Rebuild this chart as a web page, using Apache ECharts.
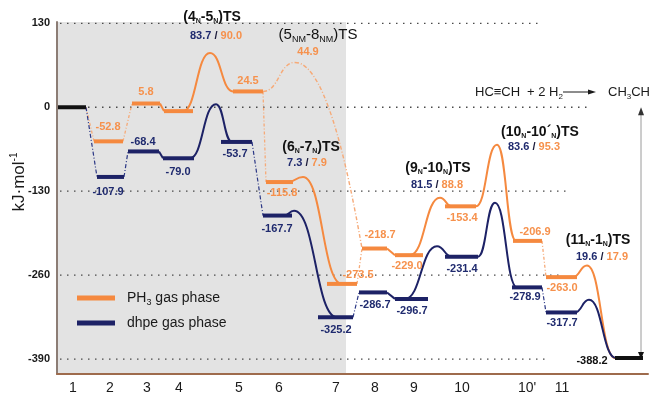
<!DOCTYPE html>
<html>
<head>
<meta charset="utf-8">
<script src="https://cdn.jsdelivr.net/npm/echarts@6/dist/echarts.min.js"></script>
<style>
  html, body { margin: 0; padding: 0; background: #fff; }
  #chart { width: 650px; height: 395px; }
</style>
</head>
<body>
<div id="chart"></div>
<script>
// Steps along the reaction coordinate
const stepLabels = ['1', '2', '3', '4', '5', '6', '7', '8', '9', '10', "10'", '11'];
// Relative energies (kJ·mol⁻¹): 1, 2 … 11, then 1 + ethane
const ph3Energy  = [0, -52.8, 5.8, -6.0, 24.5, -115.8, -273.5, -218.7, -229.0, -153.4, -206.9, -263.0, -388.2];
const dhpeEnergy = [0, -107.9, -68.4, -79.0, -53.7, -167.7, -325.2, -286.7, -296.7, -231.4, -278.9, -317.7, -388.2];
// Transition states (indices into the energy lists) and their barriers
const tsFrom = [3, 4, 5, 8, 9, 11];
const tsTo   = [4, 7, 6, 9, 10, 12];
const tsNames = [['4', 'N', '5', 'N'], ['5', 'NM', '8', 'NM'], ['6', 'N', '7', 'N'],
                 ['9', 'N', '10', 'N'], ['10', 'N', '10´', 'N'], ['11', 'N', '1', 'N']];
const dhpeBarrier = [83.7, null, 7.3, 81.5, 83.6, 19.6];
const ph3Barrier  = [90.0, 44.9, 7.9, 88.8, 95.3, 17.9];
const yTickValues = [130, 0, -130, -260, -390];

// ---- layout (axis units on x, px offsets for text) ----
const layout = {
  xMin: 57, xMax: 648, yMin: -413, yMax: 132,
  stepX: [73, 110, 147, 179, 239, 279, 336, 375, 414, 462, 527, 562],
  shaded: [58, 346],
  gridEnd: [540, 592, 568, 563, 547],
  ph3Bar:  [[57, 86], [94, 123], [132, 160], [164, 193], [233, 263], [266, 293], [327, 357], [362, 387], [395, 423], [445, 476], [513, 542], [546, 577], [615, 643]],
  dhpeBar: [[57, 86], [97, 124], [128, 159], [163, 194], [221, 252], [263, 292], [318, 353], [359, 387], [395, 428], [445, 478], [512, 542], [546, 577], [615, 643]],
  ph3Label:  [null, [108, -14], [146, -12], null, [248, -10], [282, 11], [358, -9], [380, -14], [407, 11], [462, 12], [535, -9], [562, 11], null],
  dhpeLabel: [null, [108, 15], [143, -9], [178, 14], [235, 12], [277, 13], [336, 13], [375, 13], [412, 12], [462, 12], [525, 10], [562, 11], null],
  endLabel: [592, 3],
  ph3Curve:  [[183, 210, 233], [263, 295, 362], [288, 303, 342], [410, 440, 452], [476, 497, 516], [573, 587, 615]],
  dhpeCurve: [[190, 216, 232], null, [284, 294, 337], [405, 437, 452], [478, 495, 517], [575, 589, 616]],
  tsTitle: [[212, 17], [318, 35], [311, 147], [438, 168], [540, 132], [598, 240]],
  tsValue: [[216, 36], [308, 52], [307, 163], [437, 185], [534, 147], [602, 257]],
  arrowX: 641
};

const ORANGE = '#F5893F', ORANGE_TXT = '#F6914C', ORANGE_LIGHT = '#F6AA78';
const NAVY = '#1D2266', NAVY_TXT = '#1F2A6E', BLACK = '#111111';
const FONT = '"Liberation Sans", Arial, Helvetica, sans-serif';

// Links between consecutive levels that have no transition state drawn
const links = [[0, 1, 'broken'], [1, 2, 'broken'], [2, 3, 'solid'], [4, 5, 'broken'],
               [6, 7, 'broken'], [7, 8, 'solid'], [10, 11, 'broken']];

function levelSeries(name, energy, bars, labels, color, txtColor) {
  const idx = [];
  for (let i = 1; i < energy.length - 1; i++) idx.push(i);
  return {
    type: 'custom', name, z: 6, coordinateSystem: 'cartesian2d',
    encode: { x: [0, 1], y: 2 },
    data: idx.map(i => [bars[i][0], bars[i][1], energy[i]]),
    renderItem: (params, api) => {
      const i = idx[params.dataIndex];
      const e = api.value(2);
      const a = api.coord([api.value(0), e]), b = api.coord([api.value(1), e]);
      const kids = [{ type: 'line', shape: { x1: a[0], y1: a[1], x2: b[0], y2: b[1] },
                      style: { stroke: color, lineWidth: 4 } }];
      const lab = labels[i];
      if (lab) {
        kids.push({ type: 'text', x: api.coord([lab[0], e])[0], y: a[1] + lab[1],
          style: { text: e.toFixed(1), fill: txtColor, fontSize: 11, fontWeight: 'bold',
                   fontFamily: FONT, align: 'center', verticalAlign: 'middle' } });
      }
      return { type: 'group', children: kids };
    }
  };
}

// shared start / end levels (black)
const sharedIdx = [0, ph3Energy.length - 1];
const sharedSeries = {
  type: 'custom', name: 'shared', z: 7, coordinateSystem: 'cartesian2d',
  encode: { x: [0, 1], y: 2 },
  data: sharedIdx.map(i => [layout.ph3Bar[i][0], layout.ph3Bar[i][1], ph3Energy[i]]),
  renderItem: (params, api) => {
    const e = api.value(2);
    const a = api.coord([api.value(0), e]), b = api.coord([api.value(1), e]);
    const kids = [{ type: 'line', shape: { x1: a[0], y1: a[1], x2: b[0], y2: b[1] },
                    style: { stroke: BLACK, lineWidth: 4 } }];
    if (params.dataIndex === 1) {
      kids.push({ type: 'text', x: api.coord([layout.endLabel[0], e])[0], y: a[1] + layout.endLabel[1],
        style: { text: e.toFixed(1), fill: BLACK, fontSize: 11, fontWeight: 'bold', fontFamily: FONT,
                 align: 'center', verticalAlign: 'middle' } });
    }
    return { type: 'group', children: kids };
  }
};

// connectors
const linkItems = [];
links.forEach(([f, t, kind]) => {
  linkItems.push({ value: [layout.ph3Bar[f][1], layout.ph3Bar[t][0], ph3Energy[f], ph3Energy[t]], phase: 'ph3', kind });
  linkItems.push({ value: [layout.dhpeBar[f][1], layout.dhpeBar[t][0], dhpeEnergy[f], dhpeEnergy[t]], phase: 'dhpe', kind });
});
const linkSeries = {
  type: 'custom', z: 4, coordinateSystem: 'cartesian2d', encode: { x: [0, 1], y: [2, 3] },
  data: linkItems.map(d => d.value),
  renderItem: (params, api) => {
    const d = linkItems[params.dataIndex];
    const a = api.coord([api.value(0), api.value(2)]), b = api.coord([api.value(1), api.value(3)]);
    let style;
    if (d.kind === 'solid') style = { stroke: d.phase === 'ph3' ? ORANGE : NAVY, lineWidth: 2 };
    else if (d.phase === 'ph3') style = { stroke: ORANGE_LIGHT, lineWidth: 1.3, lineDash: [3, 2, 1, 2] };
    else style = { stroke: '#2B3785', lineWidth: 1.2, lineDash: [4, 2, 1, 2] };
    return { type: 'line', shape: { x1: a[0], y1: a[1], x2: b[0], y2: b[1] }, style };
  }
};

// transition-state curves
const curveItems = [];
tsFrom.forEach((f, k) => {
  const t = tsTo[k];
  if (ph3Barrier[k] != null) {
    const xs = layout.ph3Curve[k];
    curveItems.push({ value: [xs[0], xs[1], xs[2], ph3Energy[f], ph3Energy[f] + ph3Barrier[k], ph3Energy[t]],
                      phase: 'ph3', nm: dhpeBarrier[k] == null });
  }
  if (dhpeBarrier[k] != null) {
    const xs = layout.dhpeCurve[k];
    curveItems.push({ value: [xs[0], xs[1], xs[2], dhpeEnergy[f], dhpeEnergy[f] + dhpeBarrier[k], dhpeEnergy[t]],
                      phase: 'dhpe', nm: false });
  }
});
const curveSeries = {
  type: 'custom', z: 5, coordinateSystem: 'cartesian2d', encode: { x: [0, 1, 2], y: [3, 4, 5] },
  data: curveItems.map(d => d.value),
  renderItem: (params, api) => {
    const d = curveItems[params.dataIndex];
    const s = api.coord([api.value(0), api.value(3)]);
    const p = api.coord([api.value(1), api.value(4)]);
    const t = api.coord([api.value(2), api.value(5)]);
    const d1 = p[0] - s[0], d2 = t[0] - p[0];
    const style = d.nm
      ? { stroke: ORANGE_LIGHT, lineWidth: 1.4, lineDash: [4, 2, 1, 2], fill: null }
      : { stroke: d.phase === 'ph3' ? ORANGE : NAVY, lineWidth: 2, fill: null };
    const fallEnd = d.nm
      ? { cpx2: t[0] - 0.15 * d2, cpy2: t[1] - 0.3 * (t[1] - p[1]) }
      : { cpx2: t[0] - 0.5 * d2, cpy2: t[1] };
    return { type: 'group', children: [
      { type: 'bezierCurve', shape: { x1: s[0], y1: s[1], x2: p[0], y2: p[1],
          cpx1: s[0] + 0.5 * d1, cpy1: s[1], cpx2: p[0] - 0.5 * d1, cpy2: p[1] }, style },
      { type: 'bezierCurve', shape: Object.assign({ x1: p[0], y1: p[1], x2: t[0], y2: t[1],
          cpx1: p[0] + 0.5 * d2, cpy1: p[1] }, fallEnd), style }
    ] };
  }
};

// shaded region and dotted guides
const shadeSeries = {
  type: 'custom', z: 1, coordinateSystem: 'cartesian2d', encode: { x: [0, 1] },
  data: [[layout.shaded[0], layout.shaded[1]]],
  renderItem: (params, api) => {
    const a = api.coord([api.value(0), layout.yMax]);
    const b = api.coord([api.value(1), layout.yMin]);
    return { type: 'rect', shape: { x: a[0], y: a[1], width: b[0] - a[0], height: b[1] - a[1] },
             style: { fill: '#E3E3E3' } };
  }
};
const guideSeries = {
  type: 'custom', z: 2, coordinateSystem: 'cartesian2d', encode: { x: [0, 1], y: 2 },
  data: yTickValues.map((v, i) => [layout.xMin, layout.gridEnd[i], v]),
  renderItem: (params, api) => {
    const a = api.coord([api.value(0), api.value(2)]), b = api.coord([api.value(1), api.value(2)]);
    return { type: 'line', shape: { x1: a[0] + 3, y1: a[1], x2: b[0], y2: b[1] },
             style: { stroke: '#4a4a4a', lineWidth: 1.3, lineDash: [1.5, 5.5] } };
  }
};

// overall reaction energy arrow
const arrowSeries = {
  type: 'custom', z: 8, coordinateSystem: 'cartesian2d', encode: { x: 0, y: [1, 2] },
  data: [[layout.arrowX, ph3Energy[ph3Energy.length - 1], ph3Energy[0]]],
  renderItem: (params, api) => {
    const a = api.coord([api.value(0), api.value(1)]), b = api.coord([api.value(0), api.value(2)]);
    return { type: 'group', children: [
      { type: 'line', shape: { x1: a[0], y1: a[1] - 3, x2: b[0], y2: b[1] + 6 }, style: { stroke: '#9a9a9a', lineWidth: 1 } },
      { type: 'polygon', shape: { points: [[b[0], b[1]], [b[0] - 3, b[1] + 8], [b[0] + 3, b[1] + 8]] }, style: { fill: '#333' } },
      { type: 'polygon', shape: { points: [[a[0], a[1] + 1], [a[0] - 3, a[1] - 6], [a[0] + 3, a[1] - 6]] }, style: { fill: BLACK } }
    ] };
  }
};

// text: transition-state titles and barrier values
const subRich = {
  t: { fontSize: 14, fontWeight: 'bold', fontFamily: FONT, fill: BLACK, lineHeight: 18 },
  s: { fontSize: 7, fontWeight: 'bold', fontFamily: FONT, fill: BLACK, lineHeight: 18, verticalAlign: 'bottom', padding: [0, 0, 1, 0] },
  tn: { fontSize: 15, fontFamily: FONT, fill: BLACK, lineHeight: 18 },
  sn: { fontSize: 9, fontFamily: FONT, fill: BLACK, lineHeight: 18, verticalAlign: 'bottom' },
  b: { fontSize: 11, fontWeight: 'bold', fontFamily: FONT, fill: NAVY_TXT },
  o: { fontSize: 11, fontWeight: 'bold', fontFamily: FONT, fill: ORANGE_TXT },
  k: { fontSize: 11, fontWeight: 'bold', fontFamily: FONT, fill: '#1a1a3a' }
};
const graphics = [];
tsNames.forEach((n, k) => {
  const nm = dhpeBarrier[k] == null;
  const T = nm ? 'tn' : 't', S = nm ? 'sn' : 's';
  const text = `{${T}|(${n[0]}}{${S}|${n[1]}}{${T}|-${n[2]}}{${S}|${n[3]}}{${T}|)TS}`;
  graphics.push({ type: 'text', x: layout.tsTitle[k][0], y: layout.tsTitle[k][1], z: 20,
    style: { text, rich: subRich, align: 'center', verticalAlign: 'middle' } });
  const val = nm ? `{o|${ph3Barrier[k].toFixed(1)}}`
                 : `{b|${dhpeBarrier[k].toFixed(1)}}{k| / }{o|${ph3Barrier[k].toFixed(1)}}`;
  graphics.push({ type: 'text', x: layout.tsValue[k][0], y: layout.tsValue[k][1], z: 20,
    style: { text: val, rich: subRich, align: 'center', verticalAlign: 'middle' } });
});

// axis title
graphics.push({ type: 'text', x: 19, y: 182, rotation: Math.PI / 2, z: 20,
  style: { text: 'kJ·mol{sp|-1}', fontSize: 17, fontFamily: FONT, fill: '#1a1a1a', align: 'center', verticalAlign: 'middle',
           rich: { sp: { fontSize: 10, fontFamily: FONT, fill: '#1a1a1a', verticalAlign: 'top', lineHeight: 20 } } } });

// legend
const legendRich = { sub: { fontSize: 9, fontFamily: FONT, fill: '#1a1a1a', verticalAlign: 'bottom', lineHeight: 18 } };
graphics.push({ type: 'line', z: 20, shape: { x1: 77, y1: 298, x2: 115, y2: 298 }, style: { stroke: ORANGE, lineWidth: 5 } });
graphics.push({ type: 'line', z: 20, shape: { x1: 77, y1: 323, x2: 115, y2: 323 }, style: { stroke: NAVY, lineWidth: 5 } });
graphics.push({ type: 'text', x: 127, y: 298, z: 20,
  style: { text: 'PH{sub|3} gas phase', fontSize: 14, lineHeight: 18, fontFamily: FONT, fill: '#1a1a1a', align: 'left', verticalAlign: 'middle', rich: legendRich } });
graphics.push({ type: 'text', x: 127, y: 323, z: 20,
  style: { text: 'dhpe gas phase', fontSize: 14, fontFamily: FONT, fill: '#1a1a1a', align: 'left', verticalAlign: 'middle' } });

// overall reaction
const eqRich = { sub: { fontSize: 8, fontFamily: FONT, fill: '#1a1a1a', verticalAlign: 'bottom', lineHeight: 17 } };
graphics.push({ type: 'text', x: 475, y: 92, z: 20,
  style: { text: 'HC≡CH', fontSize: 13, fontFamily: FONT, fill: '#1a1a1a', align: 'left', verticalAlign: 'middle' } });
graphics.push({ type: 'text', x: 527, y: 92, z: 20,
  style: { text: '+ 2 H{sub|2}', fontSize: 13, lineHeight: 17, fontFamily: FONT, fill: '#1a1a1a', align: 'left', verticalAlign: 'middle', rich: eqRich } });
graphics.push({ type: 'line', z: 20, shape: { x1: 563, y1: 92, x2: 590, y2: 92 }, style: { stroke: '#1a1a1a', lineWidth: 1 } });
graphics.push({ type: 'polygon', z: 20, shape: { points: [[596, 92], [588, 89.5], [588, 94.5]] }, style: { fill: '#1a1a1a' } });
graphics.push({ type: 'text', x: 608, y: 92, z: 20,
  style: { text: 'CH{sub|3}CH{sub|3}', fontSize: 13, lineHeight: 17, fontFamily: FONT, fill: '#1a1a1a', align: 'left', verticalAlign: 'middle', rich: eqRich } });

const chart = echarts.init(document.getElementById('chart'));
chart.setOption({
  animation: false,
  backgroundColor: '#ffffff',
  grid: { left: layout.xMin, right: 650 - layout.xMax, top: 22, bottom: 20, containLabel: false },
  xAxis: {
    type: 'value', min: layout.xMin, max: layout.xMax, z: 10,
    axisLine: { show: true, onZero: false, lineStyle: { color: '#9E6B4C', width: 2 } },
    axisTick: { show: false },
    splitLine: { show: false },
    axisLabel: {
      customValues: layout.stepX, margin: 7, fontSize: 14, color: '#1a1a1a', fontFamily: FONT,
      formatter: v => stepLabels[layout.stepX.indexOf(v)]
    }
  },
  yAxis: {
    type: 'value', min: layout.yMin, max: layout.yMax, z: 10,
    axisLine: { show: true, lineStyle: { color: '#8C7D75', width: 2 } },
    axisTick: { show: false },
    splitLine: { show: false },
    axisLabel: { customValues: yTickValues, margin: 7, fontSize: 11, fontWeight: 'bold', color: '#1a1a1a', fontFamily: FONT }
  },
  graphic: graphics,
  series: [
    shadeSeries,
    guideSeries,
    linkSeries,
    curveSeries,
    levelSeries('PH3 gas phase', ph3Energy, layout.ph3Bar, layout.ph3Label, ORANGE, ORANGE_TXT),
    levelSeries('dhpe gas phase', dhpeEnergy, layout.dhpeBar, layout.dhpeLabel, NAVY, NAVY_TXT),
    sharedSeries,
    arrowSeries
  ]
});
</script>
</body>
</html>
